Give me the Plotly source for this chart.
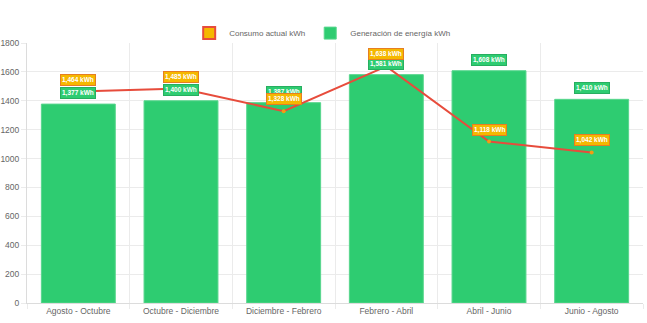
import plotly.graph_objects as go

categories = ["Agosto - Octubre", "Octubre - Diciembre", "Diciembre - Febrero",
              "Febrero - Abril", "Abril - Junio", "Junio - Agosto"]
consumo = [1464, 1485, 1328, 1638, 1118, 1042]
generacion = [1377, 1400, 1387, 1581, 1608, 1410]

GREEN = "#2ecc71"
RED = "#e74c3c"
GOLD = "#f5b800"
ORANGE = "#f39c12"
FONT = "Liberation Sans, Arial, sans-serif"

fig = go.Figure()

# legend-only entry for consumo (box style like the reference)
fig.add_trace(go.Bar(x=[None], y=[None], name="Consumo actual kWh",
                     marker=dict(color=GOLD, line=dict(color=RED, width=2)),
                     showlegend=True, hoverinfo="skip"))

fig.add_trace(go.Bar(x=categories, y=generacion, name="Generación de energía kWh",
                     marker=dict(color=GREEN, line=dict(color="#58d68d", width=1)),
                     width=0.72))

fig.add_trace(go.Scatter(x=categories, y=consumo, mode="lines+markers",
                         name="Consumo actual kWh", showlegend=False,
                         line=dict(color=RED, width=2),
                         marker=dict(color=ORANGE, size=4)))

annotations = []
for c, v in zip(categories, generacion):
    annotations.append(dict(x=c, y=v, xref="x", yref="y", text=f"<b>{v:,} kWh</b>",
                            showarrow=False, yshift=11,
                            font=dict(family=FONT, size=6.5, color="white"),
                            bgcolor=GREEN, bordercolor="#27ae60", borderwidth=1, borderpad=1))
for c, v in zip(categories, consumo):
    annotations.append(dict(x=c, y=v, xref="x", yref="y", text=f"<b>{v:,} kWh</b>",
                            showarrow=False, yshift=12,
                            font=dict(family=FONT, size=6.5, color="white"),
                            bgcolor=GOLD, bordercolor="#e67e22", borderwidth=1, borderpad=1))

fig.update_layout(
    width=647, height=323,
    margin=dict(l=27, r=4, t=43, b=20, autoexpand=False),
    paper_bgcolor="white", plot_bgcolor="white",
    barmode="overlay",
    font=dict(family=FONT, size=8.5, color="#666666"),
    showlegend=True,
    legend=dict(orientation="h", x=0.48, xanchor="center",
                y=1.038, yanchor="middle", font=dict(size=8, color="#666666"),
                bgcolor="rgba(0,0,0,0)", traceorder="normal"),
    annotations=annotations,
)
fig.update_xaxes(type="category", tickson="boundaries", showgrid=True,
                 gridcolor="#ebebeb", ticks="outside", ticklen=5, tickcolor="#ebebeb",
                 showline=True, linecolor="#dcdcdc", tickangle=0,
                 tickfont=dict(size=8.5, color="#666666"))
fig.update_yaxes(range=[0, 1800], dtick=200, showgrid=True, gridcolor="#ebebeb",
                 ticks="outside", ticklen=5, tickcolor="#ebebeb", zeroline=False,
                 showline=True, linecolor="#dcdcdc", tickfont=dict(size=8.5, color="#666666"))

fig.write_html("out.html")
